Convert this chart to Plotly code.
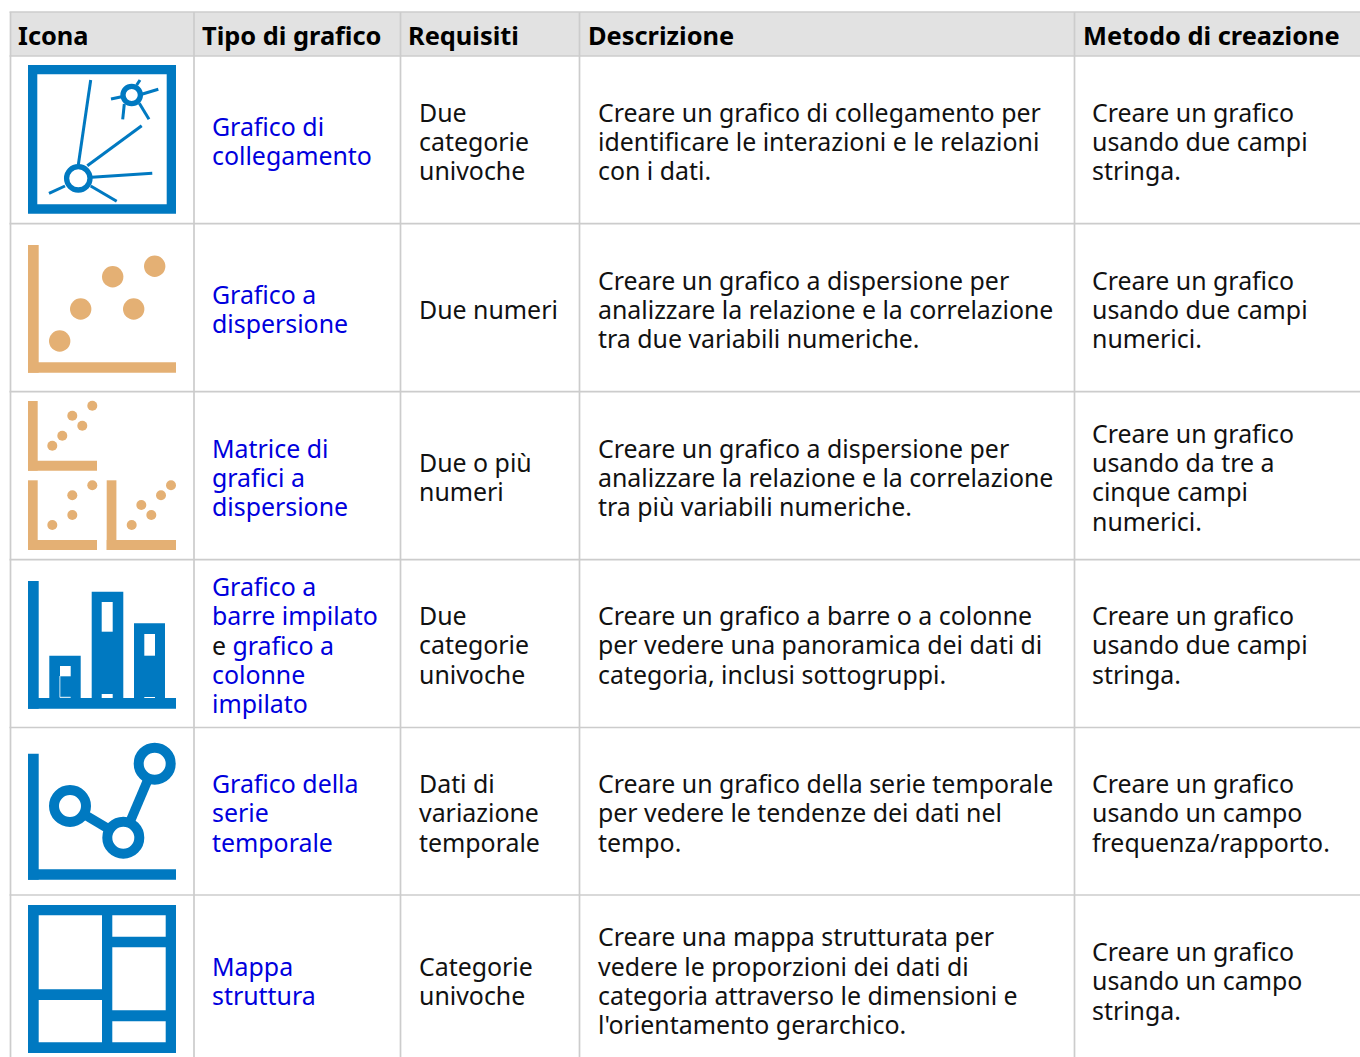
import plotly.graph_objects as go

# ---------- table content ----------
headers = ["Icona", "Tipo di grafico", "Requisiti", "Descrizione", "Metodo di creazione"]
header_x = [18, 201.5, 407.5, 587.5, 1082.5]
LINK = "#0000dd"
def link(t):
    return f'<span style="color:{LINK}">{t}</span>'

chart_types = [
    [(127, link("Grafico di")), (156, link("collegamento"))],
    [(295, link("Grafico a")), (324, link("dispersione"))],
    [(449, link("Matrice di")), (478, link("grafici a")), (507, link("dispersione"))],
    [(587, link("Grafico a")), (616, link("barre impilato")), (646, "e " + link("grafico a")),
     (675, link("colonne")), (704, link("impilato"))],
    [(784, link("Grafico della")), (813, link("serie")), (843, link("temporale"))],
    [(967, link("Mappa")), (996, link("struttura"))],
]
requirements = [
    [(113, "Due"), (142, "categorie"), (171, "univoche")],
    [(310, "Due numeri")],
    [(463, "Due o più"), (492, "numeri")],
    [(616, "Due"), (645, "categorie"), (675, "univoche")],
    [(784, "Dati di"), (813, "variazione"), (843, "temporale")],
    [(967, "Categorie"), (996, "univoche")],
]
descriptions = [
    [(113, "Creare un grafico di collegamento per"), (142, "identificare le interazioni e le relazioni"), (171, "con i dati.")],
    [(281, "Creare un grafico a dispersione per"), (310, "analizzare la relazione e la correlazione"), (339, "tra due variabili numeriche.")],
    [(449, "Creare un grafico a dispersione per"), (478, "analizzare la relazione e la correlazione"), (507, "tra più variabili numeriche.")],
    [(616, "Creare un grafico a barre o a colonne"), (645, "per vedere una panoramica dei dati di"), (675, "categoria, inclusi sottogruppi.")],
    [(784, "Creare un grafico della serie temporale"), (813, "per vedere le tendenze dei dati nel"), (843, "tempo.")],
    [(937, "Creare una mappa strutturata per"), (967, "vedere le proporzioni dei dati di"), (996, "categoria attraverso le dimensioni e"), (1025, "l'orientamento gerarchico.")],
]
methods = [
    [(113, "Creare un grafico"), (142, "usando due campi"), (171, "stringa.")],
    [(281, "Creare un grafico"), (310, "usando due campi"), (339, "numerici.")],
    [(434, "Creare un grafico"), (463, "usando da tre a"), (492, "cinque campi"), (522, "numerici.")],
    [(616, "Creare un grafico"), (645, "usando due campi"), (675, "stringa.")],
    [(784, "Creare un grafico"), (813, "usando un campo"), (843, "frequenza/rapporto.")],
    [(952, "Creare un grafico"), (981, "usando un campo"), (1011, "stringa.")],
]
columns = [(212, chart_types), (419, requirements), (598, descriptions), (1092, methods)]

# ---------- table grid ----------
col_lines = [10.5, 194, 400.5, 579.5, 1074.5]
row_lines = [12, 56, 223.7, 391.7, 559.7, 727.5, 895]
GRID = "#cccccc"; HEAD = "#e2e2e2"
BLUE = "#0079c1"; TAN = "#e4b074"

# ---------- icons ----------
net_lines = [(90.7, 80, 78.3, 165), (141.7, 125.7, 87.3, 165.7), (152.3, 173.3, 91.7, 177.3),
             (116.7, 201.3, 90.7, 186), (49, 193.3, 65, 186), (158.3, 89.3, 141.7, 94.3),
             (149, 119.3, 139.3, 103.3), (122.7, 119.3, 124.3, 104), (111, 99, 121.7, 96.7),
             (140, 80, 136.7, 85)]
net_rings = [(78.3, 178.3, 11.7, 5.3), (131.7, 95, 8.7, 5.3)]

blue_rects = [(28, 65, 176, 213.7), (28, 581, 38.7, 708.7), (28, 698, 176, 708.7),
              (49.3, 655.7, 80.7, 700), (91.7, 591.7, 123.3, 700), (134, 623.3, 165, 700),
              (28, 753.7, 38.7, 879.7), (28, 869.3, 176, 879.7), (28, 905, 176, 1053)]
white_rects = [(37.3, 74.3, 166.7, 204.3),
               (60, 666, 70.7, 676.3), (59.5, 676, 60.3, 697.5), (60, 696.8, 70.7, 697.8),
               (101.7, 602, 112.7, 631.7), (101.7, 694, 112.7, 698),
               (144.3, 634, 155, 655.7), (144.3, 697, 155, 698),
               (38.7, 915.3, 102, 989.3), (38.7, 1000, 102, 1042.3),
               (112.3, 915.3, 165.7, 936.7), (112.3, 947.3, 165.7, 1010.3), (112.3, 1021.3, 165.7, 1042.3)]
tan_rects = [(28, 245, 38.7, 372.7), (28, 362.3, 176, 372.7),
             (28, 401, 37.7, 470.7), (28, 460.7, 97, 470.7),
             (28, 480.3, 37.7, 550), (28, 540, 97, 550),
             (106.7, 480.3, 116.4, 550), (106.7, 540, 176, 550)]
tan_big = [(59.7, 341), (80.7, 309), (112.7, 276.7), (133.7, 309), (154.7, 266.3)]
tan_small = [(52.3, 445.7), (62.3, 435.7), (72.3, 415.7), (82.3, 425.7), (92.3, 405.7),
             (52.3, 525), (72.3, 515), (72.3, 495.3), (92.3, 485.3),
             (131.7, 525), (151.3, 515), (141.3, 505), (161, 495.3), (171, 485.3)]
time_nodes = [(70, 806), (123.3, 837.7), (154.7, 763.7)]

shapes = []
def rect(b, color):
    shapes.append(dict(type="rect", x0=b[0], y0=b[1], x1=b[2], y1=b[3], fillcolor=color, line_width=0))
def seg(x0, y0, x1, y1, color, w):
    shapes.append(dict(type="line", x0=x0, y0=y0, x1=x1, y1=y1, line=dict(color=color, width=w)))
def circ(cx, cy, r, fill, line=None, w=0):
    shapes.append(dict(type="circle", x0=cx - r, y0=cy - r, x1=cx + r, y1=cy + r, fillcolor=fill,
                       line=dict(color=line or fill, width=w)))

rect((col_lines[0], row_lines[0], 1360, row_lines[1]), HEAD)
for y in row_lines:
    seg(col_lines[0] - 1, y, 1360, y, GRID, 1.7)
for x in col_lines:
    seg(x, row_lines[0], x, 1057, GRID, 1.7)

for b in blue_rects[:1]:
    rect(b, BLUE)
for b in white_rects[:1]:
    rect(b, "white")
for l in net_lines:
    seg(*l, BLUE, 3)
for cx, cy, r, w in net_rings:
    circ(cx, cy, r, "white", BLUE, w)
for b in blue_rects[1:]:
    rect(b, BLUE)
for b in white_rects[1:]:
    rect(b, "white")
for b in tan_rects:
    rect(b, TAN)
for cx, cy in tan_big:
    circ(cx, cy, 10.7, TAN)
for cx, cy in tan_small:
    circ(cx, cy, 5, TAN)
for a, b in zip(time_nodes, time_nodes[1:]):
    seg(a[0], a[1], b[0], b[1], BLUE, 9.5)
for cx, cy in time_nodes:
    circ(cx, cy, 16, "white", BLUE, 10)

TXT = "#111111"
BODY = dict(family="Noto Sans", size=24.9, color=TXT)
annots = []
def put(x, y, t, font):
    annots.append(dict(x=x, y=y, xref="x", yref="y", text=t, showarrow=False,
                       xanchor="left", yanchor="middle", align="left", font=font,
                       borderpad=0, borderwidth=0))
for hx, h in zip(header_x, headers):
    put(hx, 34.7, h, dict(family="Noto Sans", size=25.4, color="black", weight=700))
for cx, rows in columns:
    for row in rows:
        for y, t in row:
            put(cx - 0.4, y - 1, t, BODY)

fig = go.Figure()
fig.update_layout(width=1360, height=1057, autosize=False, margin=dict(l=0, r=0, t=0, b=0, pad=0),
                  paper_bgcolor="white", plot_bgcolor="white", showlegend=False,
                  xaxis=dict(range=[0, 1360], visible=False, fixedrange=True),
                  yaxis=dict(range=[1057, 0], visible=False, fixedrange=True),
                  shapes=shapes, annotations=annots)
fig.write_html("out.html", config={"displayModeBar": False},
               post_script="document.body.style.margin='0';document.documentElement.style.overflow='hidden';")
